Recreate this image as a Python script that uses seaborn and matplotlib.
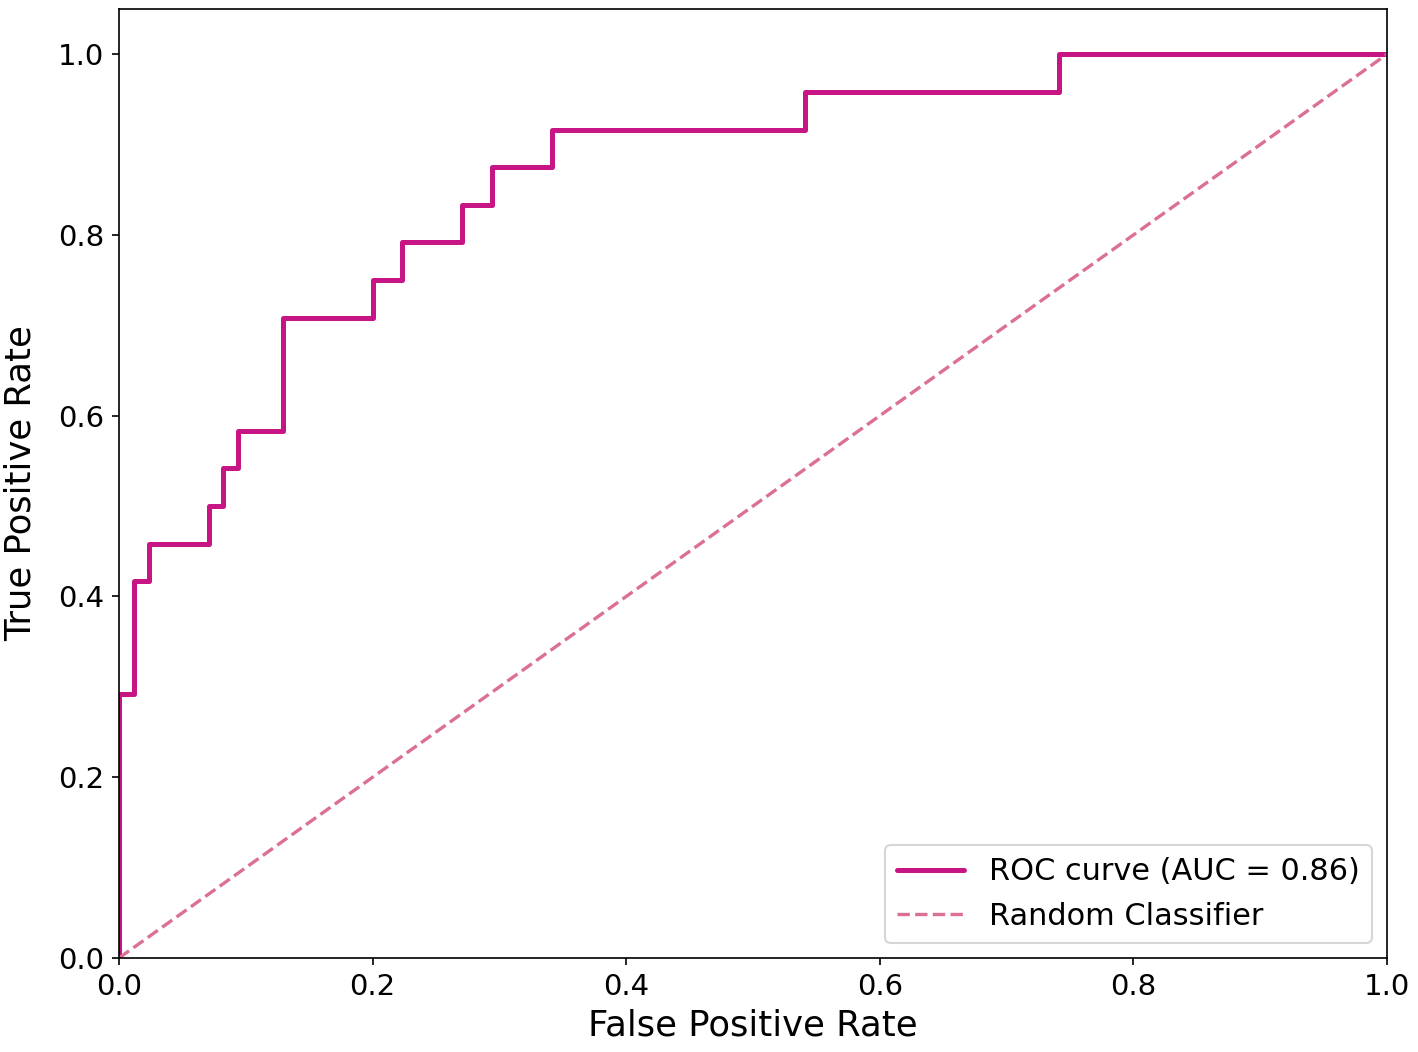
import matplotlib
matplotlib.use("Agg")
import matplotlib.pyplot as plt
import seaborn as sns
import numpy as np
import pandas as pd

# ROC corner points (85 negatives, 24 positives)
fpr_counts = [0, 0, 1, 1, 2, 2, 6, 6, 7, 7, 8, 8, 11, 11, 17, 17, 19, 19, 23, 23, 25, 25, 29, 29, 46, 46, 63, 63, 85]
tpr_counts = [0, 7, 7, 10, 10, 11, 11, 12, 12, 13, 13, 14, 14, 17, 17, 18, 18, 19, 19, 20, 20, 21, 21, 22, 22, 23, 23, 24, 24]
n_neg = 85
n_pos = 24
auc_label = "ROC curve (AUC = 0.86)"
random_label = "Random Classifier"
diag_x = [0.0, 1.0]
diag_y = [0.0, 1.0]

fpr = np.array(fpr_counts) / n_neg
tpr = np.array(tpr_counts) / n_pos
df = pd.DataFrame({"fpr": fpr, "tpr": tpr})
ddf = pd.DataFrame({"x": diag_x, "y": diag_y})

sns.set_style("ticks")
plt.rcParams['font.family'] = ['DejaVu Sans']
for k in ["text.color", "axes.labelcolor", "xtick.color", "ytick.color", "axes.edgecolor"]:
    plt.rcParams[k] = "black"

fig, ax = plt.subplots(figsize=(1418/150, 1052/150), dpi=150)
sns.lineplot(data=df, x="fpr", y="tpr", sort=False, estimator=None, color="#C71585",
             lw=2.4, label=auc_label, ax=ax)
sns.lineplot(data=ddf, x="x", y="y", sort=False, estimator=None, color="#DB7093",
             lw=1.6, linestyle="--", label=random_label, ax=ax)

ax.set_xlim(0, 1.0)
ax.set_ylim(0, 1.05)
ax.set_xlabel("False Positive Rate", fontsize=17, labelpad=4)
ax.set_ylabel("True Positive Rate", fontsize=17, labelpad=10)
ax.tick_params(labelsize=14, colors="black")
for s in ax.spines.values():
    s.set_visible(True)
    s.set_color("black")
leg = ax.legend(loc="lower right", fontsize=14.6, frameon=True, handlelength=2.2)
fig.subplots_adjust(left=119/1418, right=1387/1418, top=1-9/1052, bottom=1-958/1052)
fig.savefig("out.png", dpi=150)
